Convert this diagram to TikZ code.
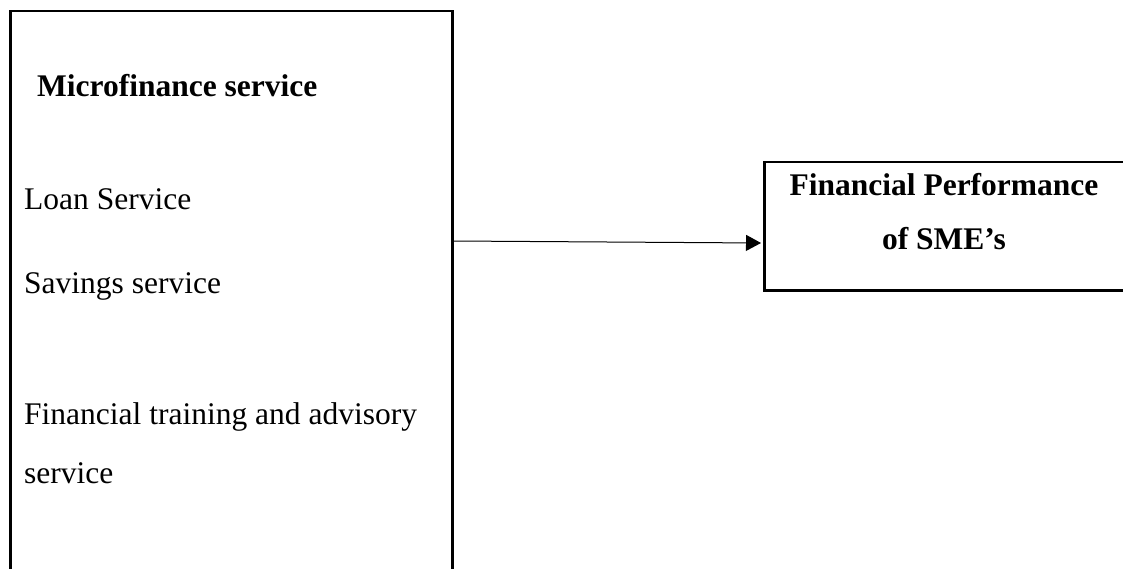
\documentclass[tikz,border=0pt]{standalone}
\usepackage{fontspec}
\setmainfont{Liberation Serif}
\usetikzlibrary{arrows.meta}
\begin{document}
\begin{tikzpicture}[x=1pt,y=-1pt,
  boxstyle/.style={draw=black, line width=2.5pt, inner sep=0pt, anchor=north west},
  txt/.style={inner sep=0pt, anchor=base west, font=\fontsize{31.5}{37}\selectfont},
  btxt/.style={inner sep=0pt, anchor=base, font=\fontsize{31.5}{37}\selectfont\bfseries},
  conn/.style={line width=1pt, -{Triangle[length=15pt,width=16pt]}}]
\useasboundingbox (0,0) rectangle (1123,569);
\node[boxstyle, minimum width=442pt, minimum height=570pt] (leftbox) at (9,10) {};
\node[boxstyle, minimum width=362pt, minimum height=128pt] (rightbox) at (763,161) {};
\node[inner sep=0pt, anchor=base west, font=\fontsize{31.5}{37}\selectfont\bfseries] (t0) at (37,97) {Microfinance service};
\node[txt] (t1) at (24,210) {Loan Service};
\node[txt] (t2) at (24,293) {Savings service};
\node[txt] (t3) at (24,424) {Financial training and advisory};
\node[txt] (t4) at (24,483) {service};
\node[btxt] (r1) at (944,196) {Financial Performance};
\node[btxt] (r2) at (944,250) {of SME’s};
\coordinate (a1) at (453,241);
\coordinate (a2) at (761,243);
\draw[conn] (a1) -- (a2);
\end{tikzpicture}
\end{document}
